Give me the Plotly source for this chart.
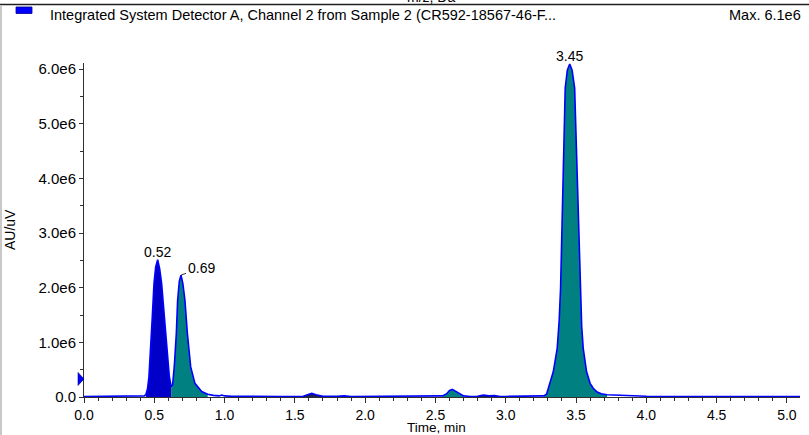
import plotly.graph_objects as go

# ---------------- data ----------------
time_min = [
    0.00, 0.05, 0.10, 0.15, 0.20, 0.25, 0.30, 0.35, 0.40, 0.43,
    0.441, 0.452, 0.462, 0.474, 0.486, 0.498, 0.510, 0.524, 0.538, 0.552,
    0.571, 0.590, 0.607, 0.620,
    0.630, 0.642, 0.650, 0.657, 0.666, 0.678, 0.690, 0.703, 0.718, 0.735,
    0.759, 0.789, 0.837, 0.880, 0.920, 0.960, 0.980, 1.000, 1.050,
    1.10, 1.20, 1.30, 1.40, 1.50, 1.56, 1.60, 1.62, 1.65, 1.70,
    1.80, 1.85, 1.90, 2.00, 2.05, 2.10, 2.20, 2.25, 2.30, 2.40,
    2.50, 2.55, 2.58, 2.60, 2.62, 2.64, 2.67, 2.70, 2.75, 2.80,
    2.84, 2.88, 2.92, 2.96, 3.00, 3.10, 3.20, 3.25,
    3.27, 3.29, 3.302, 3.32, 3.338, 3.366, 3.380, 3.390, 3.402, 3.409,
    3.423, 3.438, 3.455, 3.472, 3.490, 3.504, 3.516, 3.528, 3.540, 3.551,
    3.575, 3.600, 3.622, 3.650, 3.680, 3.720, 3.80, 3.90, 4.00, 4.20,
    4.50, 4.80, 5.093,
]
signal_e6 = [
    0.01, 0.01, 0.012, 0.01, 0.01, 0.012, 0.01, 0.01, 0.012, 0.02,
    0.05, 0.15, 0.37, 0.86, 1.47, 2.08, 2.38, 2.51, 2.35, 2.08,
    1.47, 0.86, 0.37, 0.19,
    0.22, 0.55, 0.85, 1.17, 1.77, 2.12, 2.23, 2.08, 1.77, 1.17,
    0.55, 0.25, 0.10, 0.05, 0.03, 0.02, 0.035, 0.02, 0.012,
    0.01, 0.015, 0.01, 0.01, 0.01, 0.015, 0.05, 0.065, 0.04, 0.012,
    0.015, 0.02, 0.01, 0.01, 0.02, 0.01, 0.015, 0.02, 0.01, 0.01,
    0.01, 0.02, 0.06, 0.12, 0.14, 0.11, 0.05, 0.02, 0.01, 0.015,
    0.035, 0.02, 0.025, 0.01, 0.01, 0.01, 0.01, 0.015,
    0.02, 0.05, 0.16, 0.30, 0.46, 0.89, 1.40, 1.99, 3.21, 4.43,
    5.65, 5.98, 6.09, 5.98, 5.65, 4.43, 3.21, 1.99, 1.30, 0.89,
    0.46, 0.25, 0.16, 0.09, 0.06, 0.04, 0.03, 0.02, 0.015, 0.01,
    0.01, 0.01, 0.01,
]

# integrated regions: start, end, fill colour
region_start = [0.441, 0.620, 1.56, 2.55, 2.80, 3.27]
region_end = [0.620, 0.880, 1.70, 2.70, 2.96, 3.72]
region_color = ["#0000C8", "#008080", "#1E2050", "#008080", "#1E2050", "#008080"]

peak_times = [0.524, 0.690, 3.455]
peak_labels = ["0.52", "0.69", "3.45"]

y_tick_vals = [0, 1, 2, 3, 4, 5, 6]
y_tick_text = ["0.0", "1.0e6", "2.0e6", "3.0e6", "4.0e6", "5.0e6", "6.0e6"]
x_tick_vals = [0.0, 0.5, 1.0, 1.5, 2.0, 2.5, 3.0, 3.5, 4.0, 4.5, 5.0]
x_tick_text = ["0.0", "0.5", "1.0", "1.5", "2.0", "2.5", "3.0", "3.5", "4.0", "4.5", "5.0"]

threshold_marker_e6 = 0.33

# ---------------- layout geometry ----------------
W, H = 809, 435
L, R, T, B = 84, 9, 63, 38
PW, PH = W - L - R, H - T - B
Y_MAX = 6.11
FONT = "Liberation Sans, Arial, sans-serif"


def px(xp):
    return (xp - L) / PW


def py(yp):
    return (H - B - yp) / PH


fig = go.Figure()

# filled integrated regions
for s, e, c in zip(region_start, region_end, region_color):
    xs = [t for t in time_min if s <= t <= e]
    ys = [v for t, v in zip(time_min, signal_e6) if s <= t <= e]
    fig.add_trace(go.Scatter(x=xs, y=ys, mode="lines", fill="tozeroy",
                             fillcolor=c, line=dict(width=0, color=c),
                             hoverinfo="skip", showlegend=False))

# chromatogram trace
fig.add_trace(go.Scatter(x=time_min, y=signal_e6, mode="lines",
                         line=dict(color="#0000FF", width=1.6),
                         showlegend=False, cliponaxis=False))

annotations = []
for t, lab in zip(peak_times, peak_labels):
    i = time_min.index(t)
    yv = signal_e6[i]
    if lab == "0.69":
        annotations.append(dict(x=t, y=yv, xref="x", yref="y", text=lab,
                                showarrow=True, arrowhead=0, arrowwidth=0.8,
                                arrowcolor="#000000", ax=20, ay=-7,
                                font=dict(family=FONT, size=14, color="#000000")))
    else:
        annotations.append(dict(x=t, y=yv, xref="x", yref="y", text=lab,
                                showarrow=False, yanchor="bottom", yshift=-2,
                                font=dict(family=FONT, size=14, color="#000000")))

# header texts
annotations += [
    dict(x=px(48), y=py(15.5), xref="paper", yref="paper", xanchor="left",
         yanchor="middle", showarrow=False,
         text="Integrated System Detector A, Channel 2 from Sample 2 (CR592-18567-46-F...",
         font=dict(family=FONT, size=14.5, color="#000000")),
    dict(x=px(803), y=py(15.5), xref="paper", yref="paper", xanchor="right",
         yanchor="middle", showarrow=False, text="Max. 6.1e6",
         font=dict(family=FONT, size=14.5, color="#000000")),
    dict(x=px(431), y=py(7), xref="paper", yref="paper", xanchor="center",
         yanchor="bottom", showarrow=False, text="m/z, Da",
         font=dict(family=FONT, size=14, color="#000000")),
    dict(x=px(436), y=py(428), xref="paper", yref="paper", xanchor="center",
         yanchor="middle", showarrow=False, text="Time, min", borderpad=0,
         font=dict(family=FONT, size=13.5, color="#000000")),
    dict(x=px(10), y=py(230), xref="paper", yref="paper", xanchor="center",
         yanchor="middle", showarrow=False, text="AU/uV", textangle=-90,
         font=dict(family=FONT, size=14, color="#000000")),
]

# threshold marker (triangle pointing at the y axis), y in data units
half_h = 6.5 / PH * Y_MAX
tri_path = (f"M {px(78)},{threshold_marker_e6 + half_h} "
            f"L {px(84)},{threshold_marker_e6} "
            f"L {px(78)},{threshold_marker_e6 - half_h} Z")

shapes = [
    # top separator line
    dict(type="line", xref="paper", yref="paper", x0=px(0), x1=px(809),
         y0=py(4.5), y1=py(4.5), line=dict(color="#202020", width=1.5)),
    # left grey border
    dict(type="line", xref="paper", yref="paper", x0=px(1), x1=px(1),
         y0=py(5), y1=py(435), line=dict(color="#C8C8C8", width=2)),
    # legend swatch
    dict(type="rect", xref="paper", yref="paper", x0=px(16), x1=px(32),
         y0=py(7), y1=py(13.5), fillcolor="#0000FF",
         line=dict(color="#00008B", width=0.8)),
    # threshold marker
    dict(type="path", xref="paper", yref="y", path=tri_path,
         fillcolor="#0000FF", line=dict(color="#000080", width=0.6)),
]

fig.update_layout(
    width=W, height=H,
    margin=dict(l=L, r=R, t=T, b=B, pad=0),
    paper_bgcolor="#FFFFFF", plot_bgcolor="#FFFFFF",
    font=dict(family=FONT, size=14, color="#000000"),
    annotations=annotations, shapes=shapes,
    xaxis=dict(range=[0, 5.093], showgrid=False, zeroline=False,
               showline=True, linecolor="#303030", linewidth=1,
               ticks="outside", ticklen=5, tickcolor="#303030",
               tickvals=x_tick_vals, ticktext=x_tick_text,
               tickfont=dict(family=FONT, size=14, color="#000000"),
               minor=dict(dtick=0.1, tick0=0, ticks="outside", ticklen=3,
                          tickcolor="#303030")),
    yaxis=dict(range=[0, Y_MAX], showgrid=False, zeroline=False,
               showline=True, linecolor="#303030", linewidth=1,
               ticks="outside", ticklen=4, tickcolor="#303030",
               tickvals=y_tick_vals, ticktext=y_tick_text,
               tickfont=dict(family=FONT, size=15, color="#000000"),
               minor=dict(dtick=0.5, tick0=0, ticks="outside", ticklen=3,
                          tickcolor="#303030")),
)

fig.write_html("out.html")
